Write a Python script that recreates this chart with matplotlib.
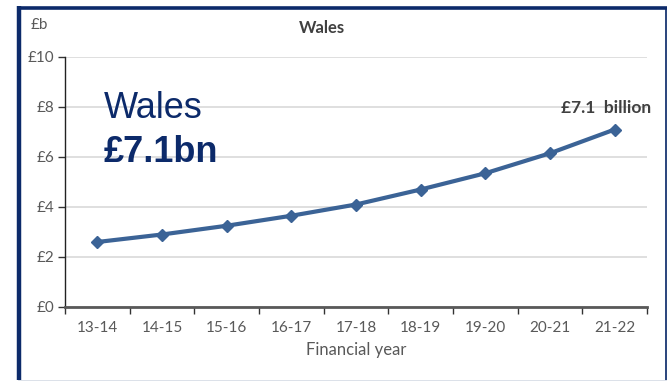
import matplotlib.pyplot as plt
from matplotlib.patches import Rectangle
from matplotlib.lines import Line2D

years = ['13-14', '14-15', '15-16', '16-17', '17-18', '18-19', '19-20', '20-21', '21-22']
spend = [2.6, 2.9, 3.25, 3.65, 4.1, 4.7, 5.35, 6.15, 7.1]
yticks = [0, 2, 4, 6, 8, 10]
ylabels = ['£0', '£2', '£4', '£6', '£8', '£10']

W, H = 668, 381
navy = '#0c2a6a'
line_col = '#3b6396'
grey_txt = '#595959'

fig = plt.figure(figsize=(W / 100, H / 100), dpi=100)
fig.patch.set_facecolor('white')

# frame round the chart
fig.add_artist(Rectangle((19 / W, 0.5 / H), 647 / W, (H - 8.5) / H, transform=fig.transFigure,
                         facecolor='none', edgecolor='#d6dce5', lw=1.2))
fig.add_artist(Line2D([19 / W, 19 / W], [1 / H, 1 - 6 / H], transform=fig.transFigure,
                      color=navy, lw=3.2, solid_capstyle='butt'))
fig.add_artist(Line2D([17 / W, 667 / W], [1 - 8 / H, 1 - 8 / H], transform=fig.transFigure,
                      color=navy, lw=2.6, solid_capstyle='butt'))
fig.add_artist(Line2D([665.5 / W, 665.5 / W], [1 / H, 1 - 8 / H], transform=fig.transFigure,
                      color=navy, lw=1.2, solid_capstyle='butt'))

ax = fig.add_axes([65 / W, 1 - 307 / H, 582 / W, 250 / H])
x = list(range(len(years)))
ax.plot(x, spend, color=line_col, lw=3, marker='D', markersize=6, zorder=3)

ax.set_xlim(-0.5, len(years) - 0.5)
ax.set_ylim(0, 10)
ax.set_yticks(yticks)
ax.set_yticklabels(ylabels)
ax.set_xticks(x)
ax.set_xticklabels(years)
ax.set_xticks([i - 0.5 for i in range(len(years) + 1)], minor=True)
ax.tick_params(axis='x', which='major', length=0, pad=10, labelsize=11, labelcolor=grey_txt)
ax.tick_params(axis='x', which='minor', length=5, width=1, color='#333333', direction='out')
ax.tick_params(axis='y', length=5, width=1, color='#333333', pad=3, labelsize=11,
               labelcolor=grey_txt)
for lab in ax.get_xticklabels() + ax.get_yticklabels():
    lab.set_fontfamily('Lato')

ax.grid(axis='y', color='#d9d9d9', lw=1.2)
ax.set_axisbelow(True)
for s in ['top', 'right']:
    ax.spines[s].set_visible(False)
ax.spines['left'].set_color('#222222')
ax.spines['left'].set_linewidth(1)
ax.spines['bottom'].set_color('#595959')
ax.spines['bottom'].set_linewidth(2)

ax.set_xlabel('Financial year', fontfamily='Lato', fontsize=12, color=grey_txt, labelpad=5)

# titles and annotations
fig.text(322 / W, 1 - 28 / H, 'Wales', ha='center', va='center', fontfamily='Lato',
         fontweight='bold', fontsize=12, color='#404040')
fig.text(39 / W, 1 - 25 / H, '£b', ha='center', va='center', fontfamily='Lato',
         fontsize=11, color=grey_txt)
fig.text(104 / W, 1 - 118 / H, 'Wales', ha='left', va='baseline',
         fontfamily='Liberation Sans', fontsize=26, color=navy)
fig.text(104 / W, 1 - 162 / H, '£7.1bn', ha='left', va='baseline',
         fontfamily='Liberation Sans', fontweight='bold', fontsize=26, color=navy)
ax.annotate('£7.1  billion', xy=(x[-1], spend[-1]), xytext=(-6, 10), textcoords='offset points',
            ha='center', va='bottom', fontfamily='Lato', fontweight='bold', fontsize=12.5,
            color='#404040')

fig.savefig('out.png', dpi=100)
